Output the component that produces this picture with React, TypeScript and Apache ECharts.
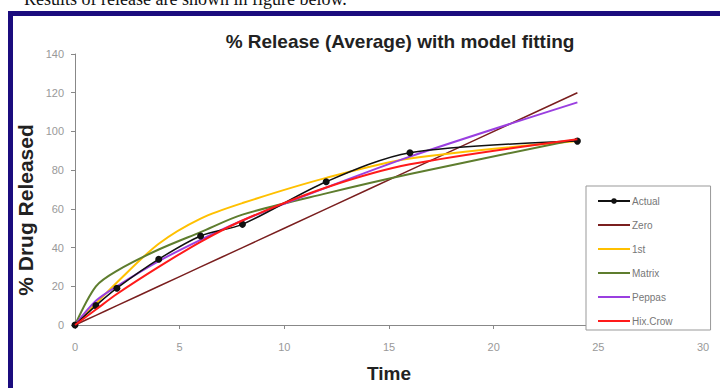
import React, { useEffect, useRef } from "react";
import * as echarts from "echarts";

const timePoints = [0, 1, 2, 4, 6, 8, 12, 16, 24];
const actualTimes = [0, 1, 2, 4, 6, 8, 12, 16, 24];
const actualValues = [0, 10, 19, 34, 46, 52, 74, 89, 95];
const zeroValues = [0, 5, 10, 20, 30, 40, 60, 80, 120];
const firstValues = [0, 11, 22, 42, 55, 63, 76, 86, 95];
const matrixValues = [0, 20, 28, 39, 48, 57, 68, 78, 96];
const peppasValues = [0, 12.5, 20, 33, 44, 54, 71, 87, 115];
const hixValues = [0, 8, 16, 30, 43, 54, 71, 83, 96];

const seriesNames = ["Actual", "Zero", "1st", "Matrix", "Peppas", "Hix.Crow"];
const xTicks = { min: 0, max: 30, interval: 5 };
const yTicks = { min: 0, max: 140, interval: 20 };

const pair = (xs: number[], ys: number[]) => xs.map((x, i) => [x, ys[i]]);

export default function App() {
  const ref = useRef<HTMLDivElement>(null);
  useEffect(() => {
    if (!ref.current) return;
    const chart = echarts.init(ref.current, null, { renderer: "svg" });
    const model = (name: string, data: number[], color: string, width: number, z: number) => ({
      name,
      type: "line",
      data: pair(timePoints, data),
      smooth: 0.3,
      symbol: "none",
      lineStyle: { color, width },
      itemStyle: { color },
      z,
    });
    chart.setOption({
      animation: false,
      backgroundColor: "#fff",
      textStyle: { fontFamily: "Liberation Sans, Arial, sans-serif" },
      title: {
        text: "% Release (Average) with model fitting",
        left: 395,
        textAlign: "center",
        top: 27,
        textStyle: { fontSize: 19, fontWeight: "bold", color: "#222", fontFamily: "Liberation Sans, Arial, sans-serif" },
      },
      graphic: [
        { type: "rect", shape: { x: 8, y: 11, width: 5, height: 380 }, style: { fill: "#1b0c7e" } },
        { type: "rect", shape: { x: 8, y: 11, width: 715, height: 5 }, style: { fill: "#1b0c7e" } },
        {
          type: "text",
          x: 24,
          y: 8,
          style: {
            text: "Results of release are shown in figure below.",
            fontFamily: "Liberation Serif, Times New Roman, serif",
            fontSize: 18,
            fill: "#111",
            textVerticalAlign: "bottom",
          },
        },
        {
          type: "text",
          x: 25,
          y: 210,
          rotation: Math.PI / 2,
          style: {
            text: "% Drug Released",
            fontFamily: "Liberation Sans, Arial, sans-serif",
            fontSize: 21,
            fontWeight: "bold",
            fill: "#222",
            textAlign: "center",
            textVerticalAlign: "middle",
          },
        },
      ],
      legend: {
        orient: "vertical",
        left: 586,
        top: 186,
        data: seriesNames.map((n) => (n === "Actual" ? { name: n } : { name: n, itemStyle: { opacity: 0 } })),
        itemWidth: 32,
        itemHeight: 7,
        itemGap: 14,
        padding: [10, 38, 4, 11],
        backgroundColor: "#fff",
        borderColor: "#999",
        borderWidth: 1,
        textStyle: { fontSize: 10, color: "#777", padding: [0, 0, 0, -3] },
        z: 10,
      },
      grid: { left: 75, right: 17, top: 54, bottom: 61 },
      xAxis: {
        type: "value",
        min: xTicks.min,
        max: xTicks.max,
        interval: xTicks.interval,
        name: "Time",
        nameLocation: "middle",
        nameGap: 39,
        nameTextStyle: { fontSize: 19, fontWeight: "bold", color: "#222" },
        splitLine: { show: false },
        axisLine: { lineStyle: { color: "#888", width: 1 } },
        axisTick: { length: 4, lineStyle: { color: "#888" } },
        axisLabel: { fontSize: 11, color: "#999", margin: 16 },
      },
      yAxis: {
        type: "value",
        min: yTicks.min,
        max: yTicks.max,
        interval: yTicks.interval,
        splitLine: { show: false },
        axisLine: { show: true, lineStyle: { color: "#888", width: 1 } },
        axisTick: { show: true, length: 4, lineStyle: { color: "#888" } },
        axisLabel: { fontSize: 11, color: "#999", margin: 11 },
      },
      series: [
        model("Zero", zeroValues, "#7a1f1f", 1.5, 2),
        model("1st", firstValues, "#ffc000", 2, 3),
        model("Matrix", matrixValues, "#5e7d2e", 2, 4),
        model("Peppas", peppasValues, "#9a3fe0", 2, 5),
        {
          name: "Actual",
          type: "line",
          data: pair(actualTimes, actualValues),
          smooth: 0.3,
          symbol: "circle",
          symbolSize: 7,
          lineStyle: { color: "#111", width: 1.5 },
          itemStyle: { color: "#111" },
          z: 6,
        },
        model("Hix.Crow", hixValues, "#ff1a1a", 2, 7),
      ],
    });
    return () => chart.dispose();
  }, []);
  return (
    <div style={{ position: "fixed", left: 0, top: 0, width: 720, height: 388, background: "#fff" }}>
      <div ref={ref} style={{ width: 720, height: 388 }} />
    </div>
  );
}
